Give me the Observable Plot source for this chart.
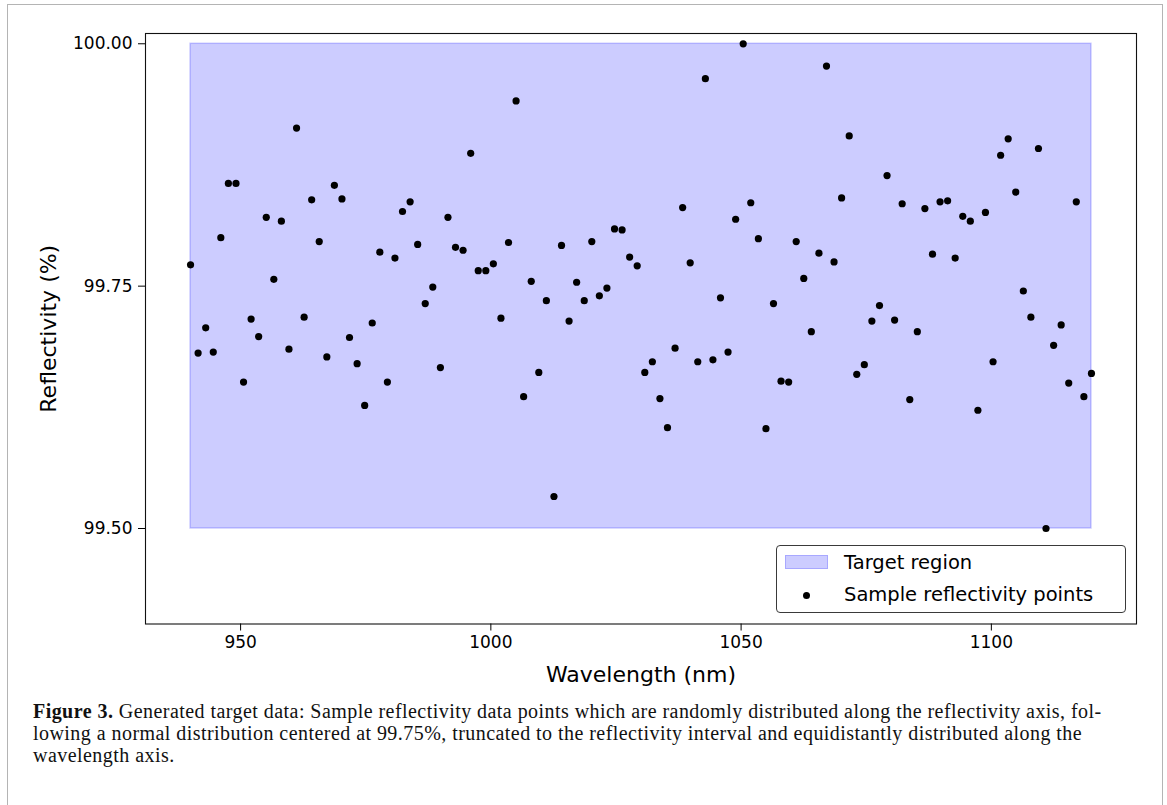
<!DOCTYPE html>
<html>
<head>
<meta charset="utf-8">
<script src="https://cdn.jsdelivr.net/npm/d3@7"></script>
<script src="https://cdn.jsdelivr.net/npm/@observablehq/plot@0.6"></script>
<style>
  html, body { margin: 0; padding: 0; background: #fff; }
  body { width: 1167px; height: 805px; overflow: hidden; position: relative; font-family: "DejaVu Sans", sans-serif; }
  #border { position: absolute; left: 7px; top: 4px; width: 1156px; height: 830px; border: 1.5px solid #b4b4b4; box-sizing: border-box; }
  #chart { position: absolute; left: 0; top: 0; }
  #chart svg { overflow: visible; }
  [aria-label="x-axis label"] text, [aria-label="y-axis label"] text { font-size: 22px; }
  #legend { position: absolute; left: 776px; top: 545px; width: 350px; height: 68px; box-sizing: border-box;
            border: 1px solid #3a3a3a; border-radius: 4px; background: #fff; font-family: "DejaVu Sans"; font-size: 19.5px; color: #000; }
  .sw-rect { position: absolute; left: 8px; width: 43px; height: 14px; box-sizing: border-box; background: #ccccff; border: 1.5px solid #a8a8ff; }
  .sw-dot { position: absolute; left: 26px; width: 7px; height: 7px; border-radius: 50%; background: #000; }
  .ltxt { position: absolute; left: 67px; white-space: nowrap; }
  #caption { position: absolute; left: 33px; top: 700px; font-family: "Liberation Serif", serif; font-size: 20px; letter-spacing: 0.45px; line-height: 22px; color: #111; white-space: nowrap; }
</style>
</head>
<body>
<div id="border"></div>
<div id="chart"></div>
<div id="legend"></div>
<div id="caption"></div>
<script>
// ---- data ----
const wavelengths = [
  940.00, 941.51, 943.03, 944.54, 946.05, 947.56, 949.08, 950.59, 952.10, 953.61,
  955.13, 956.64, 958.15, 959.66, 961.18, 962.69, 964.20, 965.71, 967.23, 968.74,
  970.25, 971.76, 973.28, 974.79, 976.30, 977.82, 979.33, 980.84, 982.35, 983.87,
  985.38, 986.89, 988.40, 989.92, 991.43, 992.94, 994.45, 995.97, 997.48, 998.99,
  1000.50, 1002.02, 1003.53, 1005.04, 1006.55, 1008.07, 1009.58, 1011.09, 1012.61, 1014.12,
  1015.63, 1017.14, 1018.66, 1020.17, 1021.68, 1023.19, 1024.71, 1026.22, 1027.73, 1029.24,
  1030.76, 1032.27, 1033.78, 1035.29, 1036.81, 1038.32, 1039.83, 1041.34, 1042.86, 1044.37,
  1045.88, 1047.39, 1048.91, 1050.42, 1051.93, 1053.45, 1054.96, 1056.47, 1057.98, 1059.50,
  1061.01, 1062.52, 1064.03, 1065.55, 1067.06, 1068.57, 1070.08, 1071.60, 1073.11, 1074.62,
  1076.13, 1077.65, 1079.16, 1080.67, 1082.18, 1083.70, 1085.21, 1086.72, 1088.24, 1089.75,
  1091.26, 1092.77, 1094.29, 1095.80, 1097.31, 1098.82, 1100.34, 1101.85, 1103.36, 1104.87,
  1106.39, 1107.90, 1109.41, 1110.92, 1112.44, 1113.95, 1115.46, 1116.97, 1118.49, 1120.00
];
const reflectivity = [
  99.772, 99.681, 99.707, 99.682, 99.800, 99.856, 99.856, 99.651, 99.716, 99.698,
  99.821, 99.757, 99.817, 99.685, 99.913, 99.718, 99.839, 99.796, 99.677, 99.854,
  99.840, 99.697, 99.670, 99.627, 99.712, 99.785, 99.651, 99.779, 99.827, 99.837,
  99.793, 99.732, 99.749, 99.666, 99.821, 99.790, 99.787, 99.887, 99.766, 99.766,
  99.773, 99.717, 99.795, 99.941, 99.636, 99.755, 99.661, 99.735, 99.533, 99.792,
  99.714, 99.754, 99.735, 99.796, 99.740, 99.748, 99.809, 99.808, 99.780, 99.771,
  99.661, 99.672, 99.634, 99.604, 99.686, 99.831, 99.774, 99.672, 99.964, 99.674,
  99.738, 99.682, 99.819, 100.000, 99.836, 99.799, 99.603, 99.732, 99.652, 99.651,
  99.796, 99.758, 99.703, 99.784, 99.977, 99.775, 99.841, 99.905, 99.659, 99.669,
  99.714, 99.730, 99.864, 99.715, 99.835, 99.633, 99.703, 99.830, 99.783, 99.837,
  99.838, 99.779, 99.822, 99.817, 99.622, 99.826, 99.672, 99.885, 99.902, 99.847,
  99.745, 99.718, 99.892, 99.500, 99.689, 99.710, 99.650, 99.837, 99.636, 99.660
];
const targetWavelength = [940, 1120];
const targetReflectivity = [99.5, 100.0];
const xTicks = [950, 1000, 1050, 1100];
const yTicks = [99.50, 99.75, 100.00];
const legendLabels = ["Target region", "Sample reflectivity points"];
const xLabel = "Wavelength (nm)";
const yLabel = "Reflectivity (%)";
const captionLines = [
  "<b>Figure 3.</b> Generated target data: Sample reflectivity data points which are randomly distributed along the reflectivity axis, fol-",
  "lowing a normal distribution centered at 99.75%, truncated to the reflectivity interval and equidistantly distributed along the",
  "wavelength axis."
];

// ---- build ----
const points = wavelengths.map((w, i) => ({w, r: reflectivity[i]}));
const region = [{x1: targetWavelength[0], x2: targetWavelength[1], y1: targetReflectivity[0], y2: targetReflectivity[1]}];

const chart = Plot.plot({
  width: 1167,
  height: 700,
  marginLeft: 145,
  marginRight: 31,
  marginTop: 33,
  marginBottom: 76.5,
  style: {fontFamily: "DejaVu Sans", fontSize: "17px", color: "#000", background: "transparent"},
  x: {domain: [931, 1129]},
  y: {domain: [99.4015, 100.0106]},
  marks: [
    Plot.rect(region, {x1: "x1", x2: "x2", y1: "y1", y2: "y2",
      fill: "#0000ff", fillOpacity: 0.2, stroke: "#0000ff", strokeOpacity: 0.2, strokeWidth: 1.5}),
    Plot.dot(points, {x: "w", y: "r", r: 3.6, fill: "#000", stroke: "none"}),
    Plot.frame({stroke: "#111", strokeWidth: 1.1}),
    Plot.axisX({ticks: xTicks, tickSize: 7, tickPadding: 5, fontSize: 17, tickFormat: d => String(d),
      label: xLabel, labelAnchor: "center", labelOffset: 58, labelArrow: "none"}),
    Plot.axisY({ticks: yTicks, tickSize: 7, tickPadding: 6, fontSize: 17, tickFormat: d3.format(".2f"),
      label: yLabel, labelAnchor: "center", labelOffset: 105, labelArrow: "none"})
  ]
});
document.getElementById("chart").appendChild(chart);

// legend
const legend = document.getElementById("legend");
legend.innerHTML =
  `<div class="sw-rect" style="top:9px"></div><div class="ltxt" style="top:5px">${legendLabels[0]}</div>` +
  `<div class="sw-dot" style="top:46px"></div><div class="ltxt" style="top:37px">${legendLabels[1]}</div>`;

// caption
document.getElementById("caption").innerHTML = captionLines.join("<br>");
</script>
</body>
</html>
